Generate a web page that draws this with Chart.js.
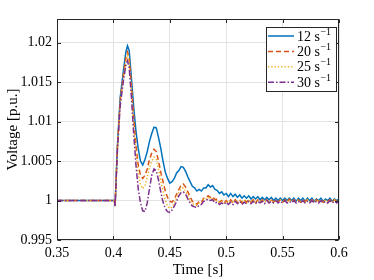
<!DOCTYPE html>
<html>
<head>
<meta charset="utf-8">
<script src="https://cdn.jsdelivr.net/npm/chart.js@4.4.1/dist/chart.umd.min.js"></script>
<style>
  html, body { margin: 0; padding: 0; background: #fff; }
</style>
</head>
<body>
<canvas id="voltageChart" width="374" height="280"></canvas>
<script>
// time samples [s]
const time = [
  0.35, 0.36, 0.37, 0.38, 0.39, 0.4, 0.401, 0.4015,
  0.4035, 0.406, 0.409, 0.411, 0.4125, 0.414, 0.416, 0.418, 0.42, 0.422,
  0.424, 0.426, 0.428, 0.43, 0.432, 0.434, 0.436, 0.438, 0.44, 0.442,
  0.444, 0.446, 0.448, 0.45, 0.452, 0.454, 0.456, 0.458, 0.46, 0.462,
  0.464, 0.466, 0.468, 0.47, 0.472, 0.474, 0.476, 0.478, 0.48, 0.482,
  0.484, 0.486, 0.488, 0.49, 0.492, 0.494, 0.496, 0.498, 0.5,
  0.502, 0.504, 0.506, 0.508, 0.51, 0.512, 0.514, 0.516, 0.518, 0.52,
  0.522, 0.524, 0.526, 0.528, 0.53, 0.532, 0.534, 0.536, 0.538, 0.54,
  0.542, 0.544, 0.546, 0.548, 0.55, 0.552, 0.554, 0.556, 0.558, 0.56,
  0.562, 0.564, 0.566, 0.568, 0.57, 0.572, 0.574, 0.576, 0.578, 0.58,
  0.582, 0.584, 0.586, 0.588, 0.59, 0.592, 0.594, 0.596, 0.598, 0.6
];

const voltage12 = [
  1, 1, 1, 1, 1, 1, 1, 0.9993,
  1.0068, 1.013, 1.0166, 1.0188, 1.0196, 1.019, 1.0155, 1.0118, 1.0088, 1.0066,
  1.005, 1.0045, 1.0052, 1.0062, 1.0075, 1.0085, 1.0093, 1.0092, 1.008, 1.0066,
  1.005, 1.0036, 1.0028, 1.0022, 1.0024, 1.0028, 1.0035, 1.0038, 1.0043, 1.0042,
  1.0037, 1.003, 1.0024, 1.0018, 1.0016, 1.0012, 1.0014, 1.0012, 1.0016, 1.0016,
  1.002, 1.0017, 1.0019, 1.0014, 1.0013, 1.0009, 1.0011, 1.0007, 1.0009,
  1.0005, 1.0009, 1.0005, 1.0008, 1.0004, 1.0007, 1.0003, 1.0006, 1.0003, 1.0006,
  1.0002, 1.0005, 1.0002, 1.0005, 1.0001, 1.0004, 1.0001, 1.0004, 1.0001, 1.0004,
  1.0, 1.0003, 1.0, 1.0003, 1.0, 1.0003, 1.0, 1.0003, 1.0, 1.0003,
  0.9999, 1.0003, 1.0, 1.0003, 0.9999, 1.0003, 1.0, 1.0003, 0.9999, 1.0002,
  1.0, 1.0003, 0.9999, 1.0002, 1.0, 1.0003, 0.9999, 1.0002, 1.0, 1.0002
];

const voltage20 = [
  1, 1, 1, 1, 1, 1, 1, 0.9993,
  1.0066, 1.0127, 1.016, 1.018, 1.0188, 1.018, 1.0145, 1.0105, 1.007, 1.0045,
  1.0032, 1.0028, 1.0032, 1.004, 1.0052, 1.006, 1.0065, 1.0062, 1.005, 1.0036,
  1.0024, 1.0012, 1.0004, 0.9999, 0.9998, 1.0002, 1.0008, 1.0014, 1.0019, 1.0021,
  1.0017, 1.0011, 1.0005, 0.9999, 0.9997, 0.9995, 0.9999, 0.9998, 1.0003, 1.0003,
  1.0006, 1.0004, 1.0005, 1.0001, 1.0002, 0.9998, 1.0, 0.9997, 1.0,
  0.9997, 1.0001, 0.9997, 1.0001, 0.9998, 1.0001, 0.9997, 1.0001, 0.9998, 1.0001,
  0.9998, 1.0001, 0.9997, 1.0001, 0.9998, 1.0001, 0.9998, 1.0001, 0.9998, 1.0001,
  0.9998, 1.0001, 0.9998, 1.0001, 0.9998, 1.0001, 0.9998, 1.0002, 0.9998, 1.0001,
  0.9998, 1.0001, 0.9998, 1.0001, 0.9999, 1.0001, 0.9998, 1.0001, 0.9998, 1.0001,
  0.9999, 1.0001, 0.9998, 1.0001, 0.9999, 1.0001, 0.9998, 1.0001, 0.9999, 1.0001
];

const voltage25 = [
  1, 1, 1, 1, 1, 1, 1, 0.9993,
  1.0064, 1.0124, 1.0157, 1.0176, 1.0184, 1.0176, 1.014, 1.0097, 1.006, 1.0034,
  1.002, 1.0015, 1.0019, 1.003, 1.0042, 1.005, 1.0055, 1.0052, 1.004, 1.0025,
  1.0012, 1.0, 0.9993, 0.999, 0.9992, 0.9997, 1.0004, 1.001, 1.0015, 1.0016,
  1.0012, 1.0006, 1.0, 0.9996, 0.9995, 0.9994, 0.9997, 0.9997, 1.0002, 1.0002,
  1.0004, 1.0002, 1.0003, 0.9999, 1.0, 0.9997, 0.9999, 0.9997, 0.9999,
  0.9997, 1.0, 0.9997, 1.0001, 0.9997, 1.0, 0.9998, 1.0001, 0.9997, 1.0,
  0.9998, 1.0001, 0.9997, 1.0, 0.9998, 1.0001, 0.9998, 1.0, 0.9998, 1.0001,
  0.9998, 1.0, 0.9998, 1.0001, 0.9998, 1.0, 0.9998, 1.0001, 0.9998, 1.0,
  0.9998, 1.0001, 0.9998, 1.0, 0.9998, 1.0001, 0.9998, 1.0, 0.9998, 1.0001,
  0.9998, 1.0, 0.9998, 1.0001, 0.9998, 1.0, 0.9998, 1.0001, 0.9998, 1.0
];

const voltage30 = [
  1, 1, 1, 1, 1, 1, 1, 0.9993,
  1.0062, 1.012, 1.0153, 1.0171, 1.0177, 1.0168, 1.013, 1.0085, 1.0045, 1.0015,
  0.9997, 0.9987, 0.9986, 0.9997, 1.0015, 1.0032, 1.004, 1.0038, 1.0026, 1.0011,
  0.9998, 0.999, 0.9986, 0.9985, 0.9988, 0.9993, 0.9999, 1.0006, 1.001, 1.0011,
  1.0008, 1.0002, 0.9997, 0.9993, 0.9992, 0.9991, 0.9994, 0.9995, 0.9999, 1.0,
  1.0002, 1.0, 1.0001, 0.9997, 0.9998, 0.9995, 0.9997, 0.9995, 0.9998,
  0.9995, 0.9998, 0.9995, 0.9999, 0.9996, 0.9999, 0.9995, 0.9998, 0.9996, 0.9999,
  0.9996, 0.9999, 0.9996, 0.9999, 0.9997, 0.9999, 0.9996, 1.0, 0.9997, 0.9999,
  0.9997, 1.0, 0.9997, 0.9999, 0.9997, 1.0, 0.9997, 0.9999, 0.9997, 1.0,
  0.9997, 0.9999, 0.9997, 1.0, 0.9997, 0.9999, 0.9997, 1.0, 0.9997, 0.9999,
  0.9997, 1.0, 0.9997, 0.9999, 0.9997, 1.0, 0.9997, 0.9999, 0.9997, 1.0
];

const rates = ['12', '20', '25', '30'];
const xTicks = [0.35, 0.4, 0.45, 0.5, 0.55, 0.6];
const yTicks = [0.995, 1, 1.005, 1.01, 1.015, 1.02];

const serif = '"Liberation Serif", "Times New Roman", serif';
const axisColor = '#262626';

function toPoints(values) {
    return time.map((t, i) => ({ x: t, y: values[i] }));
}

// box + inward ticks on all four sides, legend box in the top right corner
const matlabFrame = {
    id: 'matlabFrame',
    afterDraw(chart) {
        const ctx = chart.ctx;
        const area = chart.chartArea;
        const xs = chart.scales.x;
        const ys = chart.scales.y;
        const tick = 3.5;
        ctx.save();
        ctx.strokeStyle = axisColor;
        ctx.lineWidth = 1;
        const l = Math.round(area.left) + 0.5, r = Math.round(area.right) - 0.5;
        const t = Math.round(area.top) + 0.5, b = Math.round(area.bottom) - 0.5;
        ctx.strokeRect(l, t, r - l, b - t);
        ctx.beginPath();
        xTicks.forEach(v => {
            const px = Math.round(xs.getPixelForValue(v)) + 0.5;
            ctx.moveTo(px, b); ctx.lineTo(px, b - tick);
            ctx.moveTo(px, t); ctx.lineTo(px, t + tick);
        });
        yTicks.forEach(v => {
            const py = Math.round(ys.getPixelForValue(v)) + 0.5;
            ctx.moveTo(l, py); ctx.lineTo(l + tick, py);
            ctx.moveTo(r, py); ctx.lineTo(r - tick, py);
        });
        ctx.stroke();

        // legend
        const bx = 266.5, by = 27.5, bw = 70, bh = 64;
        ctx.fillStyle = '#fff';
        ctx.fillRect(bx, by, bw, bh);
        ctx.strokeRect(bx, by, bw, bh);
        chart.data.datasets.forEach((ds, i) => {
            const y = 36 + i * 15.4;
            ctx.save();
            ctx.strokeStyle = ds.borderColor;
            ctx.lineWidth = ds.borderWidth;
            ctx.setLineDash(ds.borderDash || []);
            ctx.beginPath();
            ctx.moveTo(268, y);
            ctx.lineTo(294, y);
            ctx.stroke();
            ctx.restore();
            ctx.fillStyle = '#000';
            ctx.textBaseline = 'middle';
            ctx.font = '14px ' + serif;
            const main = rates[i] + ' s';
            ctx.fillText(main, 297, y + 1);
            const w = ctx.measureText(main).width;
            ctx.font = '10px ' + serif;
            ctx.fillText('\u22121', 297 + w + 0.5, y - 4);
        });
        ctx.restore();
    }
};

const ctx = document.getElementById('voltageChart').getContext('2d');
new Chart(ctx, {
    type: 'line',
    data: {
        datasets: [
            { label: '12 s-1', data: toPoints(voltage12), borderColor: '#0072BD', borderWidth: 1.5, order: 3 },
            { label: '20 s-1', data: toPoints(voltage20), borderColor: '#D95319', borderWidth: 1.5, borderDash: [5, 3], order: 2 },
            { label: '25 s-1', data: toPoints(voltage25), borderColor: '#EDB120', borderWidth: 1.5, borderDash: [1.3, 2], order: 1 },
            { label: '30 s-1', data: toPoints(voltage30), borderColor: '#7E2F8E', borderWidth: 1.5, borderDash: [6, 2, 1.5, 2], order: 0 }
        ]
    },
    options: {
        responsive: false,
        animation: false,
        devicePixelRatio: 1,
        layout: { padding: { top: 19, right: 35, left: 0, bottom: 0 } },
        elements: { point: { radius: 0 }, line: { tension: 0, fill: false } },
        plugins: {
            legend: { display: false },
            tooltip: { enabled: false }
        },
        scales: {
            x: {
                type: 'linear',
                min: 0.35,
                max: 0.6,
                afterBuildTicks: s => { s.ticks = xTicks.map(v => ({ value: v })); },
                afterFit: s => { s.height = 40; },
                grid: { color: '#e3e3e3', drawTicks: false },
                border: { display: false },
                ticks: {
                    padding: 5,
                    color: '#000',
                    font: { family: serif, size: 14 },
                    maxRotation: 0,
                    callback: v => String(+v.toFixed(3))
                },
                title: {
                    display: true,
                    text: 'Time [s]',
                    color: '#000',
                    font: { family: serif, size: 15 },
                    padding: { top: 0, bottom: 1 }
                }
            },
            y: {
                min: 0.995,
                max: 1.023,
                afterBuildTicks: s => { s.ticks = yTicks.map(v => ({ value: v })); },
                afterFit: s => { s.width = 57; },
                grid: { color: '#e3e3e3', drawTicks: false },
                border: { display: false },
                ticks: {
                    padding: 5,
                    color: '#000',
                    font: { family: serif, size: 14 },
                    callback: v => String(+v.toFixed(3))
                },
                title: {
                    display: true,
                    text: 'Voltage [p.u.]',
                    color: '#000',
                    font: { family: serif, size: 15 },
                    padding: { top: 4, bottom: 0 }
                }
            }
        }
    },
    plugins: [matlabFrame]
});
</script>
</body>
</html>
